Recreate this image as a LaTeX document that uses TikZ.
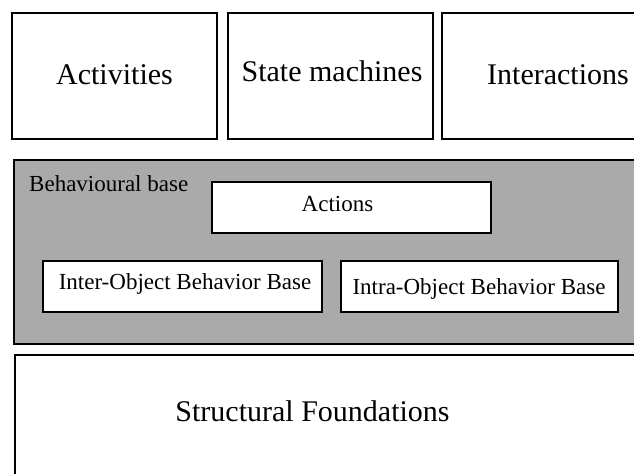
\documentclass[tikz,border=0pt]{standalone}
\usepackage{fontspec}
\setmainfont{Liberation Serif}
\definecolor{basegray}{RGB}{170,170,170}
\tikzset{
  box/.style={draw=black, line width=1.6bp, fill=white, inner sep=0pt, rectangle},
  graybox/.style={box, fill=basegray},
  bigtext/.style={font=\fontsize{30bp}{36bp}\selectfont, inner sep=0pt, anchor=base},
  smalltext/.style={font=\fontsize{23bp}{28bp}\selectfont, inner sep=0pt, anchor=base}
}
\begin{document}
\begin{tikzpicture}[x=1bp,y=-1bp]
\useasboundingbox (0,0) rectangle (634,474);
\clip (0,0) rectangle (634,474);
% top row
\node (act) [box, minimum width=205bp, minimum height=126bp] at (114.5,76) {};
\node (sm) [box, minimum width=205bp, minimum height=126bp] at (330.5,76) {};
\node (inter) [box, minimum width=232bp, minimum height=126bp] at (558,76) {};
\node (actT) [bigtext] at (114.5,85) {Activities};
\node (smT) [bigtext] at (332,82) {State machines};
\node (interT) [bigtext] at (558,85) {Interactions};
% behavioural base
\node (beh) [graybox, minimum width=646bp, minimum height=184bp] at (337,252) {};
\node (behT) [smalltext, anchor=base west] at (29,192) {Behavioural base};
\node (actions) [box, minimum width=279bp, minimum height=51bp] at (351.5,207.5) {};
\node (actionsT) [smalltext] at (337.5,212) {Actions};
\node (interob) [box, minimum width=279bp, minimum height=51bp] at (182.5,286.5) {};
\node (interobT) [smalltext] at (185,290) {Inter-Object Behavior Base};
\node (intraob) [box, minimum width=277bp, minimum height=51bp] at (479.5,286.5) {};
\node (intraobT) [smalltext] at (479,294.5) {Intra-Object Behavior Base};
% structural foundations
\node (struct) [box, minimum width=645bp, minimum height=145bp] at (337.5,427.5) {};
\node (structT) [bigtext] at (312.5,421) {Structural Foundations};
\end{tikzpicture}
\end{document}
